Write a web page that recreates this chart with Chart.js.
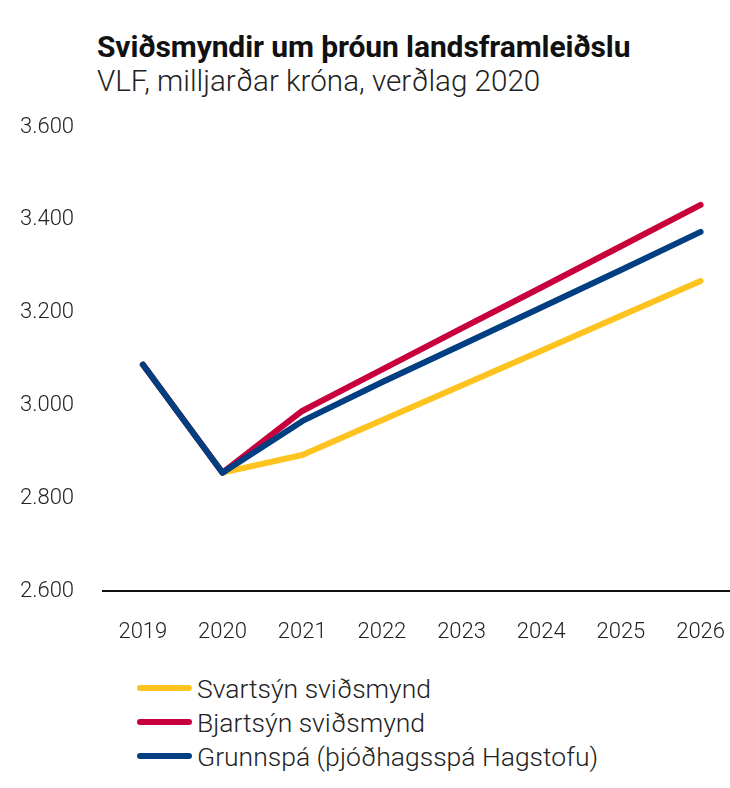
<!DOCTYPE html>
<html>
<head>
<meta charset="utf-8">
<script src="https://cdn.jsdelivr.net/npm/chart.js@4"></script>
<style>
  body { margin: 0; width: 730px; height: 788px; overflow: hidden; background: #fff; font-family: Roboto, sans-serif; color: #222; }
  #wrap { position: relative; width: 745px; height: 788px; }
  #chart { position: absolute; left: 0; top: 0; }
  .title { position: absolute; left: 97px; top: 29px; font-size: 30px; font-weight: 700; color: #111; letter-spacing: -0.1px; }
  .subtitle { position: absolute; left: 97px; top: 64px; font-size: 29.6px; font-weight: 300; color: #222; }
  #legend { position: absolute; left: 137px; top: 671px; font-size: 26.5px; font-weight: 300; color: #222; }
  #legend div { height: 34px; display: flex; align-items: center; }
  #legend span.sw { display: inline-block; width: 55px; height: 6px; border-radius: 3px; margin-right: 5px; }
</style>
</head>
<body>
<div id="wrap">
  <div class="title">Sviðsmyndir um þróun landsframleiðslu</div>
  <div class="subtitle">VLF, milljarðar króna, verðlag 2020</div>
  <canvas id="chart" width="745" height="660"></canvas>
  <div id="legend"></div>
</div>
<script>
const years = ['2019', '2020', '2021', '2022', '2023', '2024', '2025', '2026']
const svartsyn = [3088, 2855, 2893, 2968, 3043, 3118, 3193, 3268]
const bjartsyn = [3088, 2855, 2988, 3077, 3166, 3254, 3343, 3432]
const grunnspa = [3088, 2855, 2966, 3050, 3130, 3211, 3292, 3374]

const fmt = v => v.toString().replace(/\B(?=(\d{3})+(?!\d))/g, '.')

const context = document.getElementById('chart').getContext('2d')

const line = (label, data, color, order) => ({
    label: label,
    data: data,
    borderColor: color,
    backgroundColor: color,
    borderWidth: 6,
    borderCapStyle: 'round',
    borderJoinStyle: 'round',
    pointRadius: 0,
    tension: 0,
    order: order
})

const chart = new Chart(context, {
    type: 'line',
    data: {
        labels: years,
        datasets: [
            line('Svartsýn sviðsmynd', svartsyn, '#fec31e', 3),
            line('Bjartsýn sviðsmynd', bjartsyn, '#c8003c', 2),
            line('Grunnspá (þjóðhagsspá Hagstofu)', grunnspa, '#013f82', 1)
        ]
    },
    options: {
        responsive: false,
        animation: false,
        layout: { padding: { left: 20, top: 127, right: 0, bottom: 6 } },
        plugins: { legend: { display: false }, tooltip: { enabled: false } },
        scales: {
            x: {
                offset: true,
                grid: { display: false },
                border: { display: true, color: '#111', width: 2 },
                ticks: { padding: 20, color: '#222', font: { family: 'Roboto', size: 22, weight: 300 } },
                afterFit: s => { s.height = 63 }
            },
            y: {
                min: 2600,
                max: 3600,
                grid: { display: false },
                border: { display: false },
                ticks: {
                    stepSize: 200,
                    crossAlign: 'far',
                    color: '#222',
                    font: { family: 'Roboto', size: 22, weight: 300 },
                    callback: v => fmt(v)
                },
                afterFit: s => { s.width = 83 }
            }
        }
    }
})

const legend = document.getElementById('legend')
chart.data.datasets.forEach(ds => {
    const row = document.createElement('div')
    row.innerHTML = '<span class="sw" style="background:' + ds.borderColor + '"></span>' + ds.label
    legend.appendChild(row)
})
</script>
</body>
</html>
